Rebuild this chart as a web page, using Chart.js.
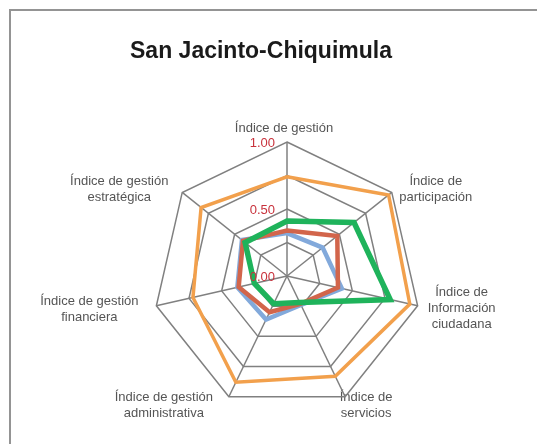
<!DOCTYPE html>
<html>
<head>
<meta charset="utf-8">
<script src="https://cdn.jsdelivr.net/npm/chart.js@4/dist/chart.umd.min.js"></script>
<style>
  html, body { margin: 0; padding: 0; background: #fff; }
  canvas { display: block; }
</style>
</head>
<body>
<canvas id="c" width="537" height="444"></canvas>
<script>
const chartTitle = "San Jacinto-Chiquimula";
const categories = [
  ["Índice de gestión"],
  ["Índice de", "participación"],
  ["Índice de", "Información", "ciudadana"],
  ["Índice de", "servicios"],
  ["Índice de gestión", "administrativa"],
  ["Índice de gestión", "financiera"],
  ["Índice de gestión", "estratégica"]
];
const tickLabels = [0.00, 0.50, 1.00];
const seriesOrange = [0.74, 0.97, 0.94, 0.83, 0.88, 0.72, 0.82];
const seriesGreen  = [0.41, 0.64, 0.79, 0.22, 0.23, 0.25, 0.40];
const seriesRed    = [0.34, 0.48, 0.39, 0.23, 0.30, 0.37, 0.42];
const seriesBlue   = [0.32, 0.34, 0.42, 0.24, 0.36, 0.38, 0.43];

// label block center offsets from each axis end (style/layout, not data)
const labelOffsets = [[-3,-14],[44,-3.5],[44,3],[21,9],[-65,9],[-67,4],[-63,-3]];

const overlay = {
  id: 'overlay',
  beforeDraw(chart) {
    const ctx = chart.ctx;
    ctx.save();
    ctx.fillStyle = '#fff';
    ctx.fillRect(0, 0, chart.width, chart.height);
    ctx.strokeStyle = '#949494';
    ctx.lineWidth = 2;
    ctx.strokeRect(10, 10, 700, 700);
    ctx.fillStyle = '#1a1a1a';
    ctx.font = 'bold 23px "Liberation Sans", Arial, sans-serif';
    ctx.textAlign = 'center';
    ctx.textBaseline = 'middle';
    ctx.fillText(chartTitle, 261, 52);
    // point labels
    const r = chart.scales.r;
    ctx.fillStyle = '#555555';
    ctx.font = '13px "Liberation Sans", Arial, sans-serif';
    const lh = 16;
    categories.forEach((lines, i) => {
      const p = r.getPointPosition(i, r.getDistanceFromCenterForValue(1));
      const cx = p.x + labelOffsets[i][0];
      const cy = p.y + labelOffsets[i][1];
      const y0 = cy - (lines.length - 1) * lh / 2;
      lines.forEach((t, k) => ctx.fillText(t, cx, y0 + k * lh));
    });
    ctx.restore();
  },
  afterDatasetsDraw(chart) {
    const ctx = chart.ctx;
    const r = chart.scales.r;
    ctx.save();
    ctx.fillStyle = '#c8323c';
    ctx.font = '13px "Liberation Sans", Arial, sans-serif';
    ctx.textAlign = 'right';
    ctx.textBaseline = 'middle';
    tickLabels.forEach(v => {
      const d = r.getDistanceFromCenterForValue(v);
      ctx.fillText(v.toFixed(2), r.xCenter - 12, r.yCenter - d + 1);
    });
    ctx.restore();
  }
};

new Chart(document.getElementById('c'), {
  type: 'radar',
  data: {
    labels: categories,
    datasets: [
      { label: 'orange', data: seriesOrange, borderColor: '#f2a04c', borderWidth: 3.5, order: 4 },
      { label: 'green', data: seriesGreen, borderColor: '#1fb35b', borderWidth: 5.5, order: 1 },
      { label: 'red', data: seriesRed, borderColor: '#d2654b', borderWidth: 4.5, order: 2 },
      { label: 'blue', data: seriesBlue, borderColor: '#82a9db', borderWidth: 4.5, order: 3 }
    ]
  },
  options: {
    responsive: false,
    animation: false,
    devicePixelRatio: 1,
    layout: { padding: { left: 153, right: 116, top: 142, bottom: 34 } },
    elements: {
      line: { fill: false, tension: 0, borderJoinStyle: 'miter' },
      point: { radius: 0, hoverRadius: 0 }
    },
    plugins: { legend: { display: false }, title: { display: false }, tooltip: { enabled: false } },
    scales: {
      r: {
        min: 0, max: 1,
        ticks: { display: false, stepSize: 0.25 },
        pointLabels: { display: false },
        grid: { color: '#808080', lineWidth: 1.5, circular: false },
        angleLines: { color: '#808080', lineWidth: 1.5 }
      }
    }
  },
  plugins: [overlay]
});
</script>
</body>
</html>
